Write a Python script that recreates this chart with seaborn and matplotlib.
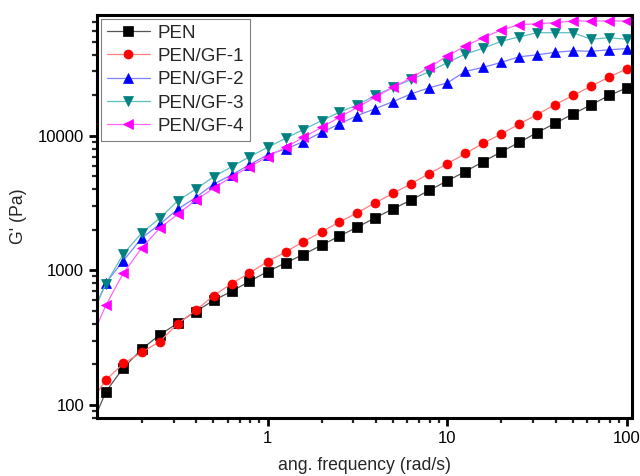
import numpy as np
import pandas as pd
import seaborn as sns
import matplotlib
matplotlib.use('Agg')
import matplotlib.pyplot as plt
from matplotlib.ticker import NullFormatter, LogLocator

# Data (angular frequency sweep, G' in Pa)
freq = [0.1, 0.126, 0.158, 0.2, 0.251, 0.316, 0.398, 0.501, 0.631, 0.794,
        1.0, 1.26, 1.58, 2.0, 2.51, 3.16, 3.98, 5.01, 6.31, 7.94,
        10.0, 12.6, 15.8, 20.0, 25.1, 31.6, 39.8, 50.1, 63.1, 79.4, 100.0]

pen = [60, 125, 189, 260, 331, 404, 494, 597, 697, 828,
       978, 1134, 1309, 1537, 1794, 2094, 2456, 2867, 3329, 3934,
       4615, 5418, 6397, 7595, 8913, 10530, 12360, 14520, 16950, 19890, 22700]

pen_gf1 = [97, 153, 203, 246, 295, 400, 503, 648, 796, 955,
           1161, 1370, 1626, 1931, 2281, 2677, 3178, 3735, 4406, 5233,
           6180, 7380, 8770, 10300, 12220, 14350, 17030, 19890, 23330, 27230, 31460]

pen_gf2 = [390, 804, 1181, 1742, 2193, 2838, 3466, 4362, 5117, 6078,
           7213, 7955, 9020, 10590, 12220, 14100, 15890, 17940, 20480, 22700,
           24660, 30050, 32160, 35060, 38540, 39890, 41610, 42740, 42350, 43470, 44380]

pen_gf3 = [400, 791, 1324, 1898, 2430, 3273, 4000, 4943, 5870, 6970,
           8180, 9550, 11090, 12940, 14930, 16950, 19890, 22920, 26180, 29870,
           34880, 40360, 44600, 50270, 54170, 58210, 58210, 58210, 52050, 53400, 52050]

pen_gf4 = [270, 548, 955, 1467, 2048, 2604, 3313, 4070, 4943, 5870,
           6970, 8180, 9710, 11530, 13700, 16260, 19310, 22920, 26860, 32340,
           38990, 46330, 53400, 61080, 66830, 67800, 69160, 71160, 71160, 71160, 71160]

labels = ['PEN', 'PEN/GF-1', 'PEN/GF-2', 'PEN/GF-3', 'PEN/GF-4']
series = [pen, pen_gf1, pen_gf2, pen_gf3, pen_gf4]

# Origin-like styling: thin light line, solid darker marker
line_colors = ['#555555', '#ff7f7f', '#7f7fff', '#5fbfbf', '#ff66ff']
marker_colors = ['#000000', '#ff0000', '#0000ff', '#008080', '#ff00ff']
markers = ['s', 'o', '^', 'v', '<']

sns.set_style('ticks')
plt.rcParams['font.family'] = ['Liberation Sans', 'DejaVu Sans']

fig = plt.figure(figsize=(6.4, 4.76), dpi=100)
ax = fig.add_axes([0.152, 0.122, 0.836, 0.846])

for idx, vals in enumerate(series):
    df = pd.DataFrame({'freq': freq, 'G': vals})
    sns.lineplot(data=df, x='freq', y='G', ax=ax, color=line_colors[idx],
                 linewidth=0.9, marker=markers[idx], markersize=6.5,
                 markerfacecolor=marker_colors[idx],
                 markeredgecolor=marker_colors[idx], markeredgewidth=0.5,
                 label=labels[idx])

ax.set_xscale('log')
ax.set_yscale('log')
ax.set_xlim(0.113, 107)
ax.set_ylim(80, 78500)

ax.set_xticks([1, 10, 100])
ax.set_xticklabels(['1', '10', '100'])
ax.set_yticks([100, 1000, 10000])
ax.set_yticklabels(['100', '1000', '10000'])
ax.xaxis.set_minor_locator(LogLocator(base=10, subs=np.arange(2, 10)))
ax.yaxis.set_minor_locator(LogLocator(base=10, subs=np.arange(2, 10)))
ax.xaxis.set_minor_formatter(NullFormatter())
ax.yaxis.set_minor_formatter(NullFormatter())

for side in ax.spines.values():
    side.set_linewidth(2.2)
    side.set_color('black')
ax.tick_params(which='major', direction='out', length=6, width=2,
               labelsize=12, colors='black', top=False, right=False)
ax.tick_params(which='minor', direction='out', length=3.5, width=1.6,
               top=False, right=False)

ax.set_xlabel('ang. frequency (rad/s)', fontsize=12.7, labelpad=8)
ax.set_ylabel("G' (Pa)", fontsize=12.7, labelpad=8)

leg = ax.legend(loc='upper left', fontsize=13.5, numpoints=1, handlelength=2.3,
                handletextpad=0.4, labelspacing=0.33, borderaxespad=0.2,
                borderpad=0.3, fancybox=False, framealpha=1)
leg.get_frame().set_edgecolor('#808080')
leg.get_frame().set_linewidth(0.8)

fig.savefig('out.png', dpi=100)
